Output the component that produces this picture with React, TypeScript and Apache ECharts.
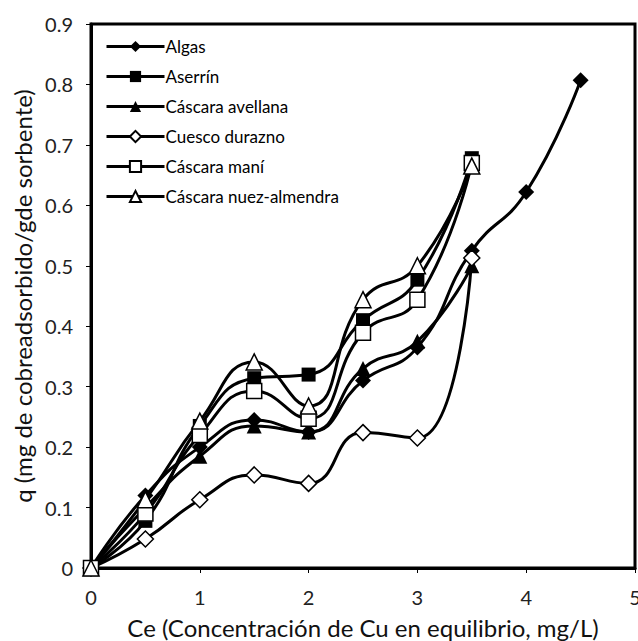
import React, { useEffect, useRef } from "react";
import * as echarts from "echarts";

const xBase = [0, 0.5, 1, 1.5, 2, 2.5, 3, 3.5];
const xAlgas = [0, 0.5, 1, 1.5, 2, 2.5, 3, 3.5, 4, 4.5];
const algas = [0, 0.12, 0.2, 0.245, 0.225, 0.31, 0.365, 0.525, 0.622, 0.807];
const aserrin = [0, 0.078, 0.235, 0.314, 0.32, 0.41, 0.477, 0.678];
const avellana = [0, 0.1, 0.185, 0.235, 0.225, 0.33, 0.375, 0.5];
const cuesco = [0, 0.048, 0.113, 0.154, 0.14, 0.224, 0.215, 0.513];
const mani = [0, 0.09, 0.22, 0.293, 0.247, 0.389, 0.444, 0.67];
const nuez = [0, 0.113, 0.243, 0.341, 0.268, 0.444, 0.5, 0.665];

const seriesNames = [
  "Algas",
  "Aserrín",
  "Cáscara avellana",
  "Cuesco durazno",
  "Cáscara maní",
  "Cáscara nuez-almendra",
];

const FONT = "Lato";

function pairs(xs: number[], ys: number[]) {
  return ys.map((y, i) => [xs[i], y]);
}

export default function App() {
  const ref = useRef<HTMLDivElement>(null);
  useEffect(() => {
    if (!ref.current) return;
    const chart = echarts.init(ref.current, null, { renderer: "svg" });
    const mk = (
      name: string,
      data: number[][],
      symbol: string,
      size: number,
      filled: boolean
    ) => ({
      name,
      type: "line",
      data,
      smooth: 0.5,
      symbol,
      symbolSize: size,
      lineStyle: { color: "#000", width: 3 },
      itemStyle: {
        color: filled ? "#000" : "#fff",
        borderColor: "#000",
        borderWidth: filled ? 0 : 1.5,
      },
      emphasis: { disabled: true },
    });
    chart.setOption({
      animation: false,
      backgroundColor: "#fff",
      grid: {
        left: 91,
        top: 24,
        right: 3,
        bottom: 73,
        outerBoundsMode: "none",
        containLabel: false,
        show: true,
        borderColor: "#000",
        borderWidth: 3,
      },
      legend: {
        orient: "vertical",
        left: 100,
        top: 33,
        itemWidth: 58,
        itemHeight: 14,
        itemGap: 13,
        data: seriesNames,
        lineStyle: { width: 3, color: "#000" },
        textStyle: { fontFamily: FONT, fontSize: 17, color: "#000", padding: [0, 0, 0, -4] },
      },
      xAxis: {
        type: "value",
        min: 0,
        max: 5,
        interval: 1,
        name: "Ce (Concentración de Cu en equilibrio, mg/L)",
        nameLocation: "middle",
        nameGap: 47,
        nameTextStyle: { fontFamily: FONT, fontSize: 24, color: "#111" },
        axisLine: { show: true, lineStyle: { color: "#000", width: 3 } },
        axisTick: { show: true, inside: false, length: 5, lineStyle: { color: "#000" } },
        axisLabel: { fontFamily: FONT, fontSize: 20, color: "#222", margin: 19 },
        splitLine: { show: false },
      },
      yAxis: {
        type: "value",
        min: 0,
        max: 0.9,
        interval: 0.1,
        name: "q (mg de cobreadsorbido/gde sorbente)",
        nameLocation: "middle",
        nameRotate: 90,
        nameGap: 56,
        nameTextStyle: { fontFamily: FONT, fontSize: 24, color: "#111" },
        axisLine: { show: true, lineStyle: { color: "#000", width: 3 } },
        axisTick: { show: true, inside: false, length: 5, lineStyle: { color: "#000" } },
        axisLabel: {
          fontFamily: FONT,
          fontSize: 20,
          color: "#222",
          margin: 18,
          formatter: (v: number) => (v === 0 ? "0" : v.toFixed(1)),
        },
        splitLine: { show: false },
      },
      series: [
        mk(seriesNames[0], pairs(xAlgas, algas), "diamond", 16, true),
        mk(seriesNames[1], pairs(xBase, aserrin), "rect", 14, true),
        mk(seriesNames[2], pairs(xBase, avellana), "triangle", 15, true),
        mk(seriesNames[3], pairs(xBase, cuesco), "diamond", 16, false),
        mk(seriesNames[4], pairs(xBase, mani), "rect", 15, false),
        mk(seriesNames[5], pairs(xBase, nuez), "triangle", 16, false),
      ],
    });
    return () => chart.dispose();
  }, []);
  return (
    <div
      ref={ref}
      style={{ position: "fixed", left: 0, top: 0, width: 638, height: 641 }}
    />
  );
}
